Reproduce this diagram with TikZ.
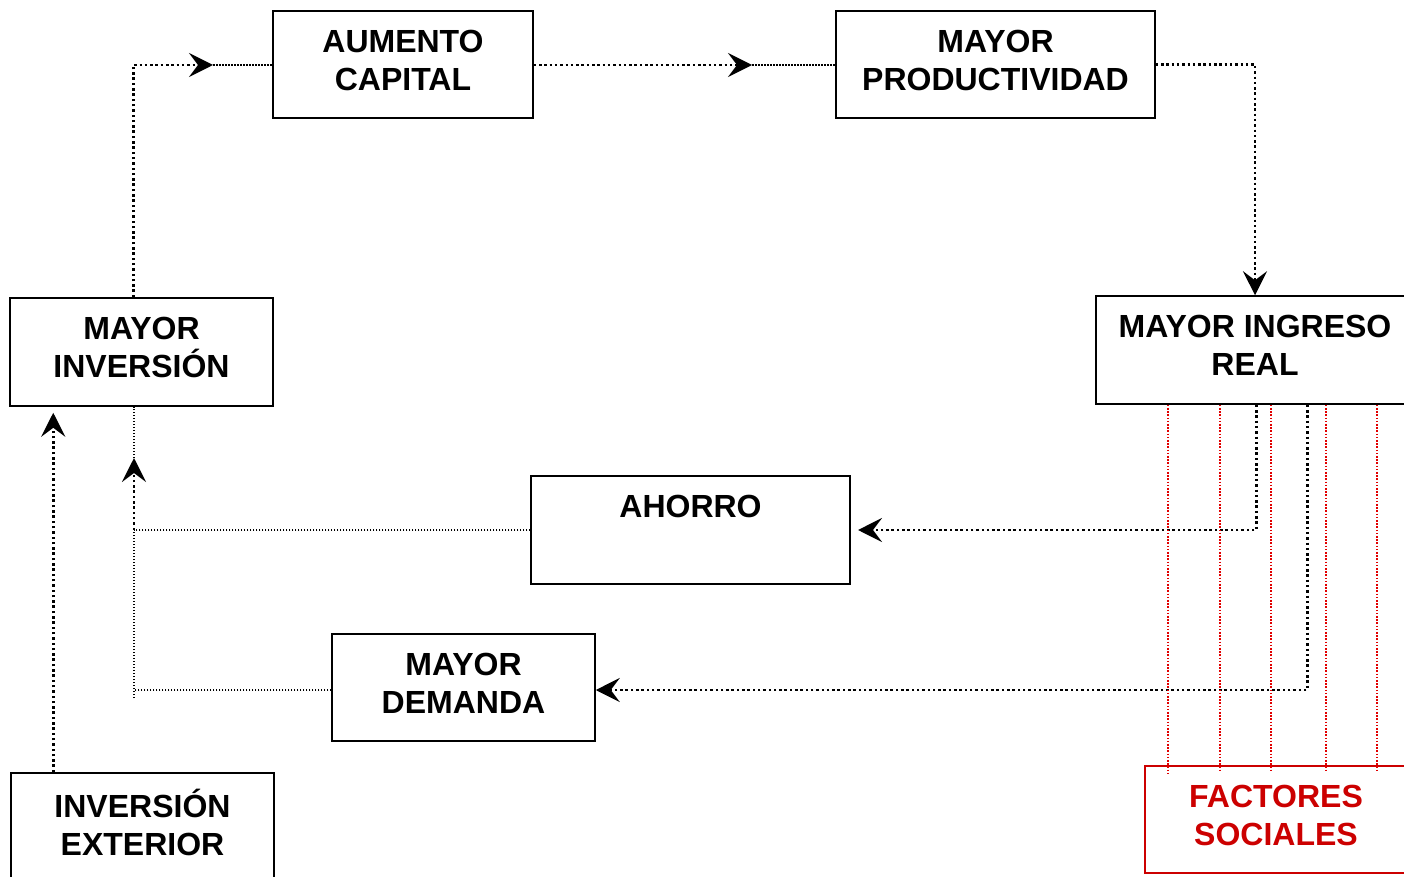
\documentclass[tikz,border=0pt]{standalone}
\usepackage{fontspec}
\setmainfont{Liberation Sans}
\usetikzlibrary{arrows.meta}
\definecolor{boxred}{RGB}{204,0,0}
\definecolor{linered}{RGB}{225,0,0}
\newcommand\liftup{\\[-29pt]\mbox{}}
\tikzset{
  box/.style={draw=black, line width=1.5pt, fill=white, align=center,
    inner sep=0pt, font=\fontsize{32}{38}\selectfont\bfseries},
  redbox/.style={box, draw=boxred, text=boxred},
  thickconn/.style={line width=2.5pt, dash pattern=on 2.5pt off 2.8pt},
  thinconn/.style={line width=1.6pt, dash pattern=on 1.5pt off 1.5pt},
  redconn/.style={draw=linered, line width=1.8pt, dash pattern=on 1.6pt off 1.6pt},
  tip/.style={-{Stealth[length=24pt,width=24pt,inset=9pt]}}
}
\begin{document}
\begin{tikzpicture}[x=1pt,y=-1pt]
\useasboundingbox (0,0) rectangle (1404,877);
\clip (0,0) rectangle (1404,877);
% nodes
\node[box, minimum width=260pt, minimum height=107pt] (cap) at (403,64.5) {AUMENTO\\CAPITAL\liftup};
\node[box, minimum width=319pt, minimum height=107pt] (prod) at (995.5,64.5) {MAYOR\\PRODUCTIVIDAD\liftup};
\node[box, minimum width=263pt, minimum height=108pt] (inv) at (141.5,352) {MAYOR\\INVERSIÓN\liftup};
\node[box, minimum width=318pt, minimum height=108pt] (ing) at (1255,350) {MAYOR INGRESO\\REAL\liftup};
\node[box, minimum width=319pt, minimum height=108pt] (aho) at (690.5,530) {AHORRO\\\mbox{}\liftup};
\node[box, minimum width=263pt, minimum height=107pt] (dem) at (463.5,687.5) {MAYOR\\DEMANDA\liftup};
\node[box, minimum width=263pt, minimum height=107pt] (ext) at (142.5,826.5) {INVERSIÓN\\EXTERIOR\liftup};
\node[redbox, minimum width=262pt, minimum height=107pt] (fac) at (1276,819.5) {FACTORES\\SOCIALES\liftup};
% coordinates
\coordinate (t1) at (213,65);
\coordinate (t2) at (752,65);
\coordinate (t4) at (858,530);
\coordinate (j1) at (134,530);
\coordinate (j2) at (134,698);
\coordinate (t5) at (134,458);
% inversion -> aumento capital
\draw[thickconn, tip] ([xshift=124pt]inv.north west) |- (t1);
\draw[thinconn] (t1) -- (cap.west |- t1);
% aumento capital -> productividad
\draw[thickconn, tip] (cap.east |- t2) -- (t2);
\draw[thinconn] (t2) -- (prod.west |- t2);
% productividad -> ingreso
\draw[thickconn, tip] (prod.east) -| (ing.north);
% ingreso -> ahorro
\draw[thickconn, tip] ([xshift=161pt]ing.south west) |- (t4);
% ahorro -> inversion
\draw[thinconn] (aho.west) -- (j1);
\draw[thickconn, tip] (j1) -- (t5);
\draw[thinconn] (t5) -- (inv.south -| t5);
% ingreso -> demanda
\draw[thickconn, tip] ([xshift=212pt]ing.south west) |- ([yshift=-2.5pt]dem.east);
% demanda -> inversion
\draw[thinconn] ([yshift=-2.5pt]dem.west) -- ++(-198,0);
\draw[thinconn] (j2) -- (j1);
% inversion exterior -> inversion
\draw[thickconn, tip] ([xshift=43pt]ext.north west) -- ([xshift=44pt,yshift=-6pt]inv.south west);
% factores sociales lines
\draw[redconn] ([xshift=73pt]ing.south west) -- ([xshift=24pt,yshift=-9pt]fac.north west);
\draw[redconn] ([xshift=125pt]ing.south west) -- ([xshift=76pt,yshift=-7pt]fac.north west);
\draw[redconn] ([xshift=176pt]ing.south west) -- ([xshift=127pt,yshift=-7pt]fac.north west);
\draw[redconn] ([xshift=231pt]ing.south west) -- ([xshift=182pt,yshift=-7pt]fac.north west);
\draw[redconn] ([xshift=282pt]ing.south west) -- ([xshift=233pt,yshift=-7pt]fac.north west);
\end{tikzpicture}
\end{document}
